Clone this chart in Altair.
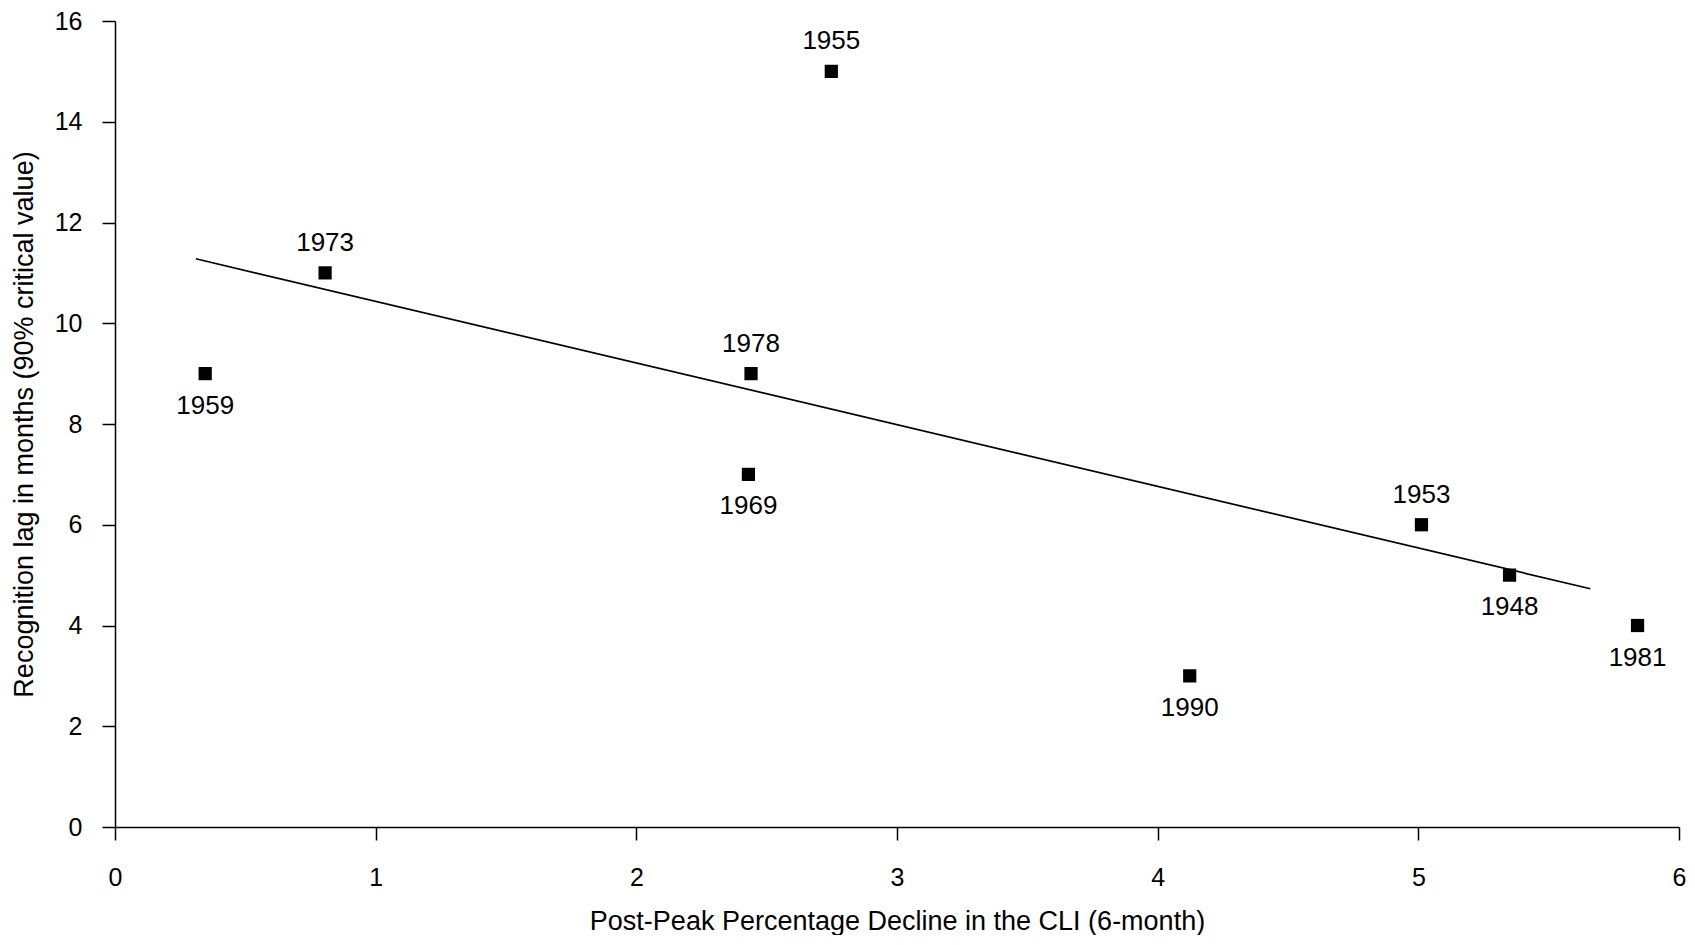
import altair as alt
import pandas as pd

# Data
years = ["1959", "1973", "1978", "1969", "1955", "1990", "1953", "1948", "1981"]
decline = [0.346, 0.806, 2.44, 2.43, 2.748, 4.123, 5.012, 5.35, 5.841]
lag = [9, 11, 9, 7, 15, 3, 6, 5, 4]
label_side = ["below", "above", "above", "below", "above", "below", "above", "below", "below"]

# Fitted trend line endpoints
trend_x = [0.31, 5.66]
trend_y = [11.28, 4.73]

x_ticks = [0, 1, 2, 3, 4, 5, 6]
y_ticks = [0, 2, 4, 6, 8, 10, 12, 14, 16]

FONT = "Liberation Sans"

df = pd.DataFrame({"year": years, "decline": decline, "lag": lag, "side": label_side})
trend = pd.DataFrame({"decline": trend_x, "lag": trend_y})

x_enc = alt.X(
    "decline:Q",
    scale=alt.Scale(domain=[0, 6], nice=False, zero=True),
    axis=alt.Axis(
        title="Post-Peak Percentage Decline in the CLI (6-month)",
        values=x_ticks,
        format="d",
        grid=False,
        labelPadding=25,
        titlePadding=18,
    ),
)
y_enc = alt.Y(
    "lag:Q",
    scale=alt.Scale(domain=[0, 16], nice=False),
    axis=alt.Axis(
        title="Recognition lag in months (90% critical value)",
        values=y_ticks,
        format="d",
        grid=False,
        labelPadding=20,
        titlePadding=16,
    ),
)

points = alt.Chart(df).mark_square(size=175, color="black", opacity=1, filled=True).encode(
    x=x_enc, y=y_enc
)

line = alt.Chart(trend).mark_line(color="black", strokeWidth=1.7).encode(
    x="decline:Q", y="lag:Q"
)

labels_above = alt.Chart(df).transform_filter(alt.datum.side == "above").mark_text(
    font=FONT, fontSize=26, color="black", dy=-30, baseline="middle", align="center"
).encode(x="decline:Q", y="lag:Q", text="year:N")

labels_below = alt.Chart(df).transform_filter(alt.datum.side == "below").mark_text(
    font=FONT, fontSize=26, color="black", dy=32, baseline="middle", align="center"
).encode(x="decline:Q", y="lag:Q", text="year:N")

chart = alt.layer(line, points, labels_above, labels_below).properties(
    width=1564,
    height=806,
    autosize=alt.AutoSizeParams(type="none"),
    padding={"left": 107, "top": 13, "right": 8, "bottom": 108},
    background="white",
).configure_view(stroke=None).configure_axis(
    labelFont=FONT,
    titleFont=FONT,
    labelFontSize=25,
    titleFontSize=27,
    titleFontWeight="normal",
    labelColor="black",
    titleColor="black",
    domainColor="black",
    tickColor="black",
    tickSize=13,
    domainWidth=1.5,
    tickWidth=1.5,
    labelOverlap=False,
    labelBound=False,
    labelFlush=False,
)

chart.save("out.html", embed_options={"renderer": "svg", "actions": False})
